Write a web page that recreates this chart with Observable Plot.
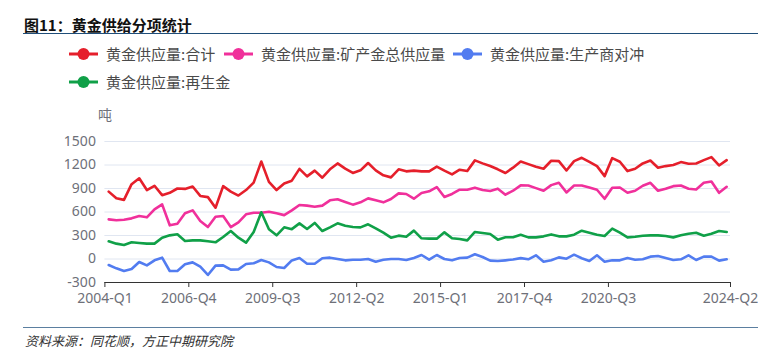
<!DOCTYPE html>
<html><head><meta charset="utf-8">
<script src="https://cdn.jsdelivr.net/npm/d3@7"></script>
<script src="https://cdn.jsdelivr.net/npm/@observablehq/plot@0.6"></script>
<style>
body{margin:0;background:#fff;}
#wrap{position:relative;width:758px;height:357px;overflow:hidden;font-family:"Noto Sans CJK SC","Noto Sans",sans-serif;background:#fff;}
#title{position:absolute;left:24px;top:15px;font-size:15px;font-weight:bold;color:#111;line-height:20px;white-space:nowrap;}
#tline{position:absolute;left:23px;top:33px;width:735px;border-top:1.5px solid #1F4E79;}
.leg{position:absolute;display:flex;align-items:center;font-size:15px;color:#4a4a4a;white-space:nowrap;line-height:20px;}
.leg svg{margin-right:8px;}
#unit{position:absolute;left:98px;top:104px;font-size:14px;color:#6E7079;}
#chart{position:absolute;left:0;top:100px;}
#chart svg{overflow:visible;}
#fline{position:absolute;left:23px;top:327px;width:735px;border-top:1.5px solid #5B7FA0;}
#src{position:absolute;left:25px;top:331px;font-size:13px;font-style:italic;color:#333;white-space:nowrap;}
</style></head>
<body><div id="wrap">
<div id="title">图11：黄金供给分项统计</div>
<div id="tline"></div>
<div id="legend"></div>
<div id="unit">吨</div>
<div id="chart"></div>
<div id="fline"></div>
<div id="src">资料来源：同花顺，方正中期研究院</div>
</div>
<script>
const quarters = [
"2004-Q1","2004-Q2","2004-Q3","2004-Q4","2005-Q1","2005-Q2","2005-Q3","2005-Q4",
"2006-Q1","2006-Q2","2006-Q3","2006-Q4","2007-Q1","2007-Q2","2007-Q3","2007-Q4",
"2008-Q1","2008-Q2","2008-Q3","2008-Q4","2009-Q1","2009-Q2","2009-Q3","2009-Q4",
"2010-Q1","2010-Q2","2010-Q3","2010-Q4","2011-Q1","2011-Q2","2011-Q3","2011-Q4",
"2012-Q1","2012-Q2","2012-Q3","2012-Q4","2013-Q1","2013-Q2","2013-Q3","2013-Q4",
"2014-Q1","2014-Q2","2014-Q3","2014-Q4","2015-Q1","2015-Q2","2015-Q3","2015-Q4",
"2016-Q1","2016-Q2","2016-Q3","2016-Q4","2017-Q1","2017-Q2","2017-Q3","2017-Q4",
"2018-Q1","2018-Q2","2018-Q3","2018-Q4","2019-Q1","2019-Q2","2019-Q3","2019-Q4",
"2020-Q1","2020-Q2","2020-Q3","2020-Q4","2021-Q1","2021-Q2","2021-Q3","2021-Q4",
"2022-Q1","2022-Q2","2022-Q3","2022-Q4","2023-Q1","2023-Q2","2023-Q3","2023-Q4",
"2024-Q1","2024-Q2"];

const totalSupply = [860,775,755,955,1030,880,935,815,845,900,895,925,805,790,655,930,860,810,880,975,1245,985,880,965,1000,1150,
1055,1128,1038,1145,1220,1153,1098,1132,1225,1132,1068,1042,1145,1119,1128,1119,1119,1179,1128,1081,1140,1123,1259,1221,1187,1145,1098,1166,1245,
1211,1177,1152,1254,1250,1130,1250,1292,1241,1186,1058,1288,1241,1122,1152,1220,1258,1165,1186,1199,1237,1216,1220,1262,1301,1194,1262];

const mineSupply = [506,494,502,519,549,532,634,698,430,451,583,621,485,408,540,549,408,468,570,591,591,604,583,560,621,690,
681,668,681,749,762,728,694,723,774,749,723,766,838,830,770,843,864,919,791,830,885,885,911,881,868,898,821,872,940,
939,905,871,943,973,850,939,939,913,884,769,909,913,845,871,935,973,871,896,930,939,896,888,973,990,845,922];

const hedgeSupply = [-77,-119,-153,-128,-38,-81,-17,17,-153,-153,-68,-43,-98,-204,-85,-81,-136,-132,-64,-55,-13,-43,-102,-115,-18,13,
-60,-60,9,17,0,-17,-9,-9,0,-34,-9,0,0,-13,13,51,-9,51,0,-17,13,17,60,26,-21,-26,-17,-6,11,
-4,47,-34,-17,21,4,55,9,-26,47,-34,-17,-17,13,-9,-4,30,38,13,-13,-4,47,-13,30,30,-21,-4];

const recycledSupply = [226,196,179,213,204,196,196,272,302,315,230,238,238,226,213,281,357,272,208,345,596,379,302,404,381,455,
383,460,357,404,455,425,408,404,443,391,336,272,298,285,362,264,260,260,340,264,255,238,345,332,319,247,277,278,310,
276,276,289,314,289,289,310,361,336,310,293,387,336,276,285,297,302,302,293,276,302,323,336,297,323,357,344];

const seriesNames = ["黄金供应量:合计","黄金供应量:矿产金总供应量","黄金供应量:生产商对冲","黄金供应量:再生金"];
const seriesColors = ["#E51F2B","#F0309B","#527CF0","#10A048"];
const xTickLabels = ["2004-Q1","2006-Q4","2009-Q3","2012-Q2","2015-Q1","2017-Q4","2020-Q3","2024-Q2"];
const yTicks = [-300,0,300,600,900,1200,1500];

const seriesValues = [totalSupply, mineSupply, hedgeSupply, recycledSupply];
const data = [];
seriesValues.forEach((vals, s) => vals.forEach((v, i) => data.push({i, v, s: seriesNames[s]})));

// legend
const legendPos = [[69,44],[224,44],[453,44],[69,72]];
const legendEl = document.getElementById("legend");
seriesNames.forEach((n, k) => {
  const d = document.createElement("div");
  d.className = "leg";
  d.style.left = legendPos[k][0] + "px";
  d.style.top = legendPos[k][1] + "px";
  d.innerHTML = `<svg width="29" height="14"><line x1="0" x2="29" y1="7" y2="7" stroke="${seriesColors[k]}" stroke-width="3"/><circle cx="14.5" cy="7" r="6" fill="${seriesColors[k]}"/></svg><span>${n}</span>`;
  legendEl.appendChild(d);
});

const tickPos = xTickLabels.map((l, k) => k === xTickLabels.length - 1 ? quarters.indexOf(l) + 0.5 : quarters.indexOf(l) - 0.5);
const labelAt = new Map(tickPos.map((p, k) => [p, xTickLabels[k]]));

const chart = Plot.plot({
  width: 758,
  height: 212,
  marginTop: 41,
  marginBottom: 30,
  marginLeft: 104.4,
  marginRight: 28,
  style: {fontFamily: "'Noto Sans', sans-serif", background: "transparent", overflow: "visible"},
  x: {domain: [-0.5, quarters.length - 0.5]},
  y: {domain: [-300, 1500]},
  color: {domain: seriesNames, range: seriesColors},
  marks: [
    Plot.gridY(yTicks.filter(t => t > -300), {stroke: "#E0E6F1", strokeOpacity: 1, strokeWidth: 1}),
    Plot.axisY(yTicks, {tickSize: 0, tickPadding: 9, fontSize: 14, fill: "#6E7079", label: null, tickFormat: d => String(d)}),
    Plot.ruleY([-300], {stroke: "#333", strokeWidth: 1.2}),
    Plot.axisX(tickPos, {tickSize: 5, stroke: "#333", tickPadding: 6, fontSize: 14, fill: "#6E7079", label: null, tickFormat: d => labelAt.get(d)}),
    Plot.lineY(data, {x: "i", y: "v", z: "s", stroke: "s", strokeWidth: 2.6, strokeLinejoin: "round"})
  ]
});
document.getElementById("chart").appendChild(chart);
</script>
</body></html>
